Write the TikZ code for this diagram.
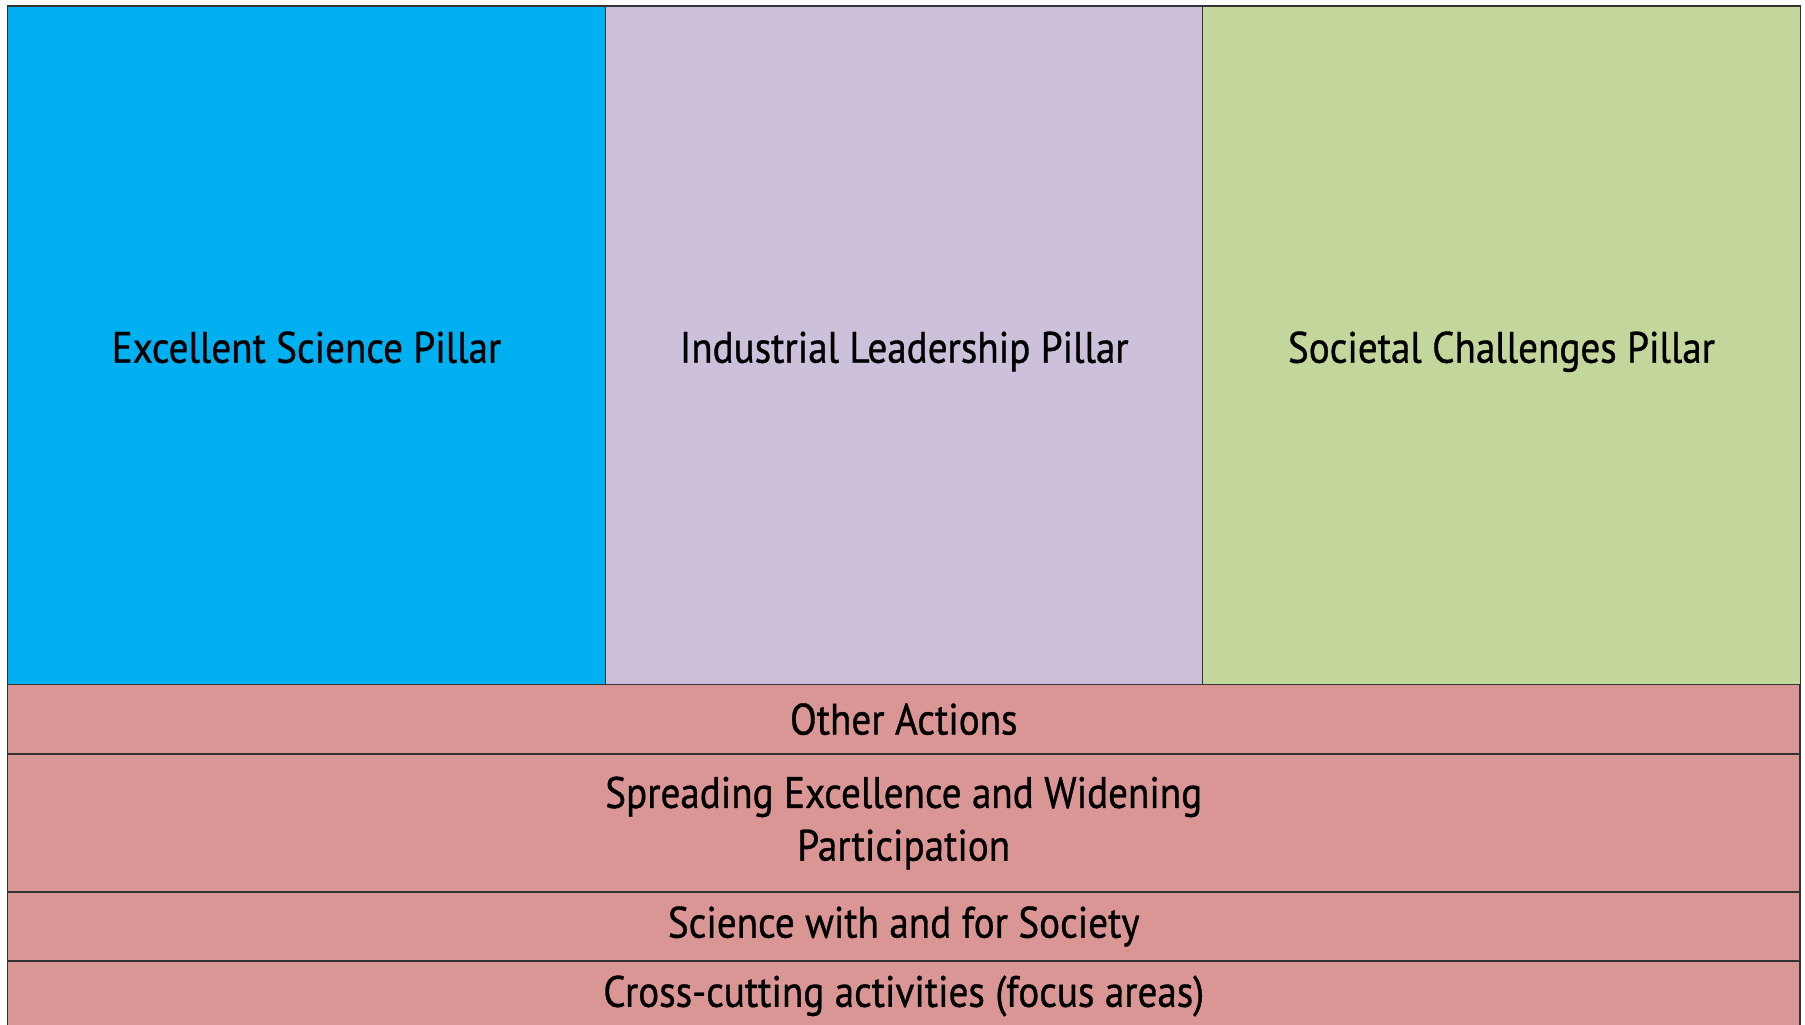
\documentclass[tikz,border=0pt]{standalone}
\usepackage{fontspec}
\setmainfont[FakeStretch=0.89, FakeBold=0.8]{PT Sans}
\usepackage{tikz}
\definecolor{sciblue}{HTML}{00B0F0}
\definecolor{indlilac}{HTML}{CCC0DA}
\definecolor{socgreen}{HTML}{C3D69B}
\definecolor{actpink}{HTML}{DA9694}
\tikzstyle{pillar}=[draw=black!80, line width=0.8pt, minimum width=119.5mm, minimum height=135.7mm, inner sep=0pt, text height=20pt, text depth=0pt, font=\fontsize{25}{30}\selectfont]
\tikzstyle{band}=[draw=black!80, line width=0.8pt, fill=actpink, minimum width=358.5mm, inner sep=0pt, align=center, font=\fontsize{25}{30}\selectfont]

\begin{document}
\begin{tikzpicture}[x=0.2mm, y=-0.2mm]
	\useasboundingbox[fill=white] (0, 0) rectangle (1805, 1025);
	\clip (0, 0) rectangle (1805, 1025);
	% pillars
	\node[pillar, fill=sciblue] (es) at (306.5, 345.15) {Excellent Science Pillar};
	\node[pillar, fill=indlilac] (il) at (904.25, 345.15) {Industrial Leadership Pillar};
	\node[pillar, fill=socgreen] (sc) at (1501.5, 345.15) {Societal Challenges Pillar};
	% bands underneath
	\node[band, minimum height=13.94mm] (oa) at (903.75, 719.15) {Other Actions};
	\node[band, minimum height=27.6mm] (sew) at (903.75, 823) {Spreading Excellence and Widening\\Participation};
	\node[band, minimum height=13.8mm] (swfs) at (903.75, 926.5) {Science with and for Society};
	\node[band, minimum height=14mm] (cca) at (903.75, 996) {Cross-cutting activities (focus areas)};
\end{tikzpicture}
\end{document}
